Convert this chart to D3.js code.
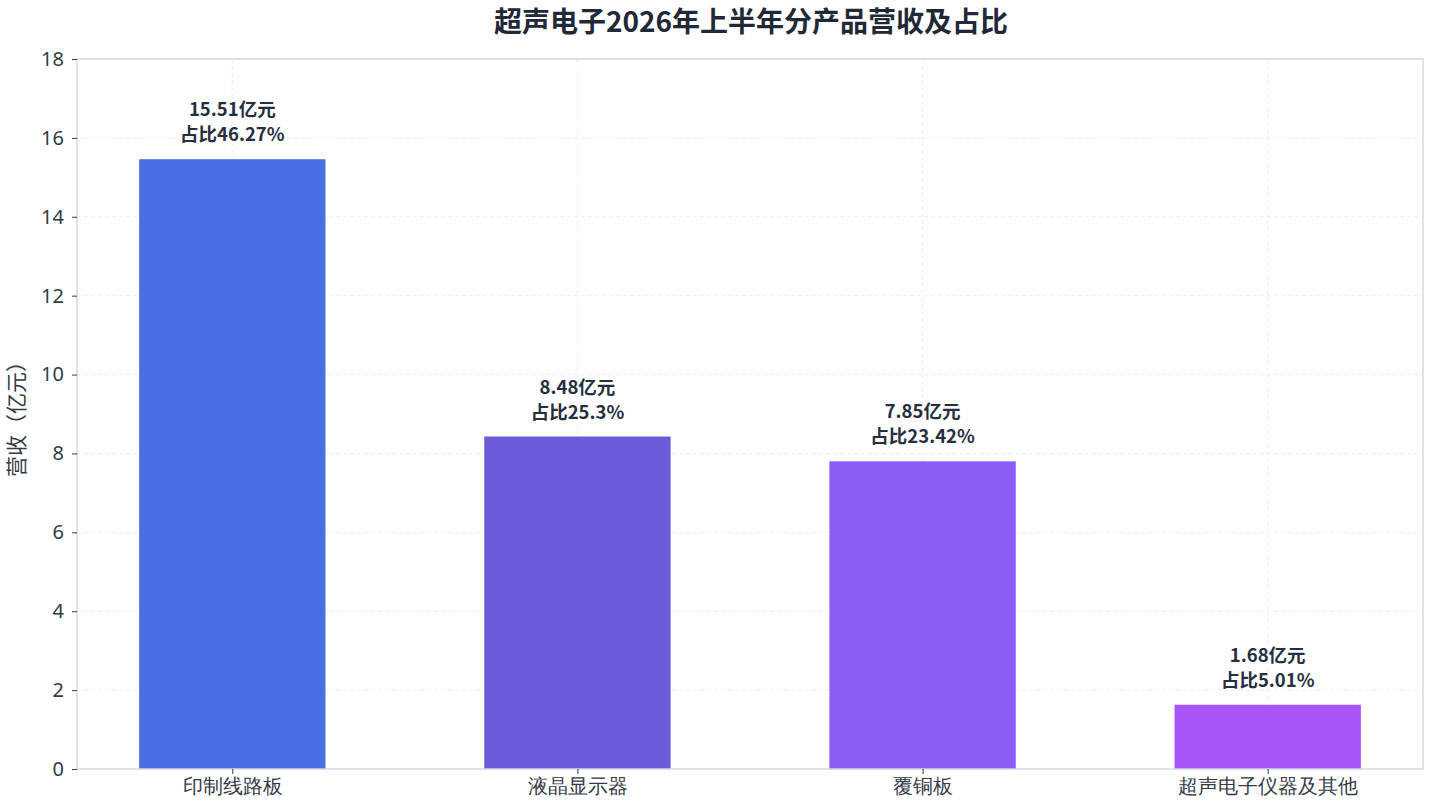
<!DOCTYPE html>
<html><head><meta charset="utf-8">
<script src="https://cdn.jsdelivr.net/npm/d3@7"></script>
<style>
html,body{margin:0;padding:0;background:#fff;}
svg{display:block;font-family:"Noto Sans CJK SC","Noto Sans",sans-serif;}
</style></head>
<body><svg id="c" width="1430" height="807"></svg>
<script>
const categories = ["印制线路板","液晶显示器","覆铜板","超声电子仪器及其他"];
const revenues = [15.51, 8.48, 7.85, 1.68];
const shares = ["46.27%","25.3%","23.42%","5.01%"];
const colors = ["#4a6fe3","#6a5bd8","#8b5cf6","#a855f7"];
const yTicks = [0,2,4,6,8,10,12,14,16,18];

const svg = d3.select("#c");
const L = 77, R = 1423, T = 59, B = 769;
const x = d3.scaleLinear().domain([-0.45, 3.45]).range([L, R]);
const y = d3.scaleLinear().domain([0, 18]).range([B, T]);
const barW = 0.54;

// grid
svg.append("g").selectAll("line").data(yTicks.slice(1,-1)).join("line")
  .attr("x1", L).attr("x2", R).attr("y1", d=>y(d)).attr("y2", d=>y(d))
  .attr("stroke", "#e6e8ec").attr("stroke-dasharray", "4,3").attr("stroke-width", 0.8);
svg.append("g").selectAll("line").data(categories).join("line")
  .attr("x1", (d,i)=>x(i)).attr("x2", (d,i)=>x(i)).attr("y1", T).attr("y2", B)
  .attr("stroke", "#e6e8ec").attr("stroke-dasharray", "4,3").attr("stroke-width", 0.8);

// bars
svg.append("g").selectAll("rect").data(revenues).join("rect")
  .attr("x", (d,i)=>x(i - barW/2)).attr("width", (d,i)=>x(barW) - x(0))
  .attr("y", d=>y(d) + 2).attr("height", d=>y(0)-y(d) - 2)
  .attr("fill", (d,i)=>colors[i]);

// frame
svg.append("rect").attr("x", L).attr("y", T).attr("width", R-L).attr("height", B-T)
  .attr("fill", "none").attr("stroke", "#d5d8de").attr("stroke-width", 1.5);

// axes
const yAxis = d3.axisLeft(y).tickValues(yTicks).tickSize(5).tickPadding(8);
const gy = svg.append("g").attr("transform", `translate(${L},0)`).call(yAxis);
gy.select(".domain").remove();
gy.selectAll("line").attr("stroke", "#333a45");
gy.selectAll("text").attr("font-size", 20).attr("fill", "#333a45").attr("font-family", '"Noto Sans","Noto Sans CJK SC",sans-serif');

const xAxis = d3.axisBottom(x).tickValues(d3.range(categories.length)).tickFormat(i=>categories[i]).tickSize(5).tickPadding(5);
const gx = svg.append("g").attr("transform", `translate(0,${B})`).call(xAxis);
gx.select(".domain").remove();
gx.selectAll("line").attr("stroke", "#333a45");
gx.selectAll("text").attr("font-size", 20).attr("fill", "#333a45");

// value labels
const lab = svg.append("g").selectAll("text").data(revenues).join("text")
  .attr("text-anchor", "middle").attr("font-weight", "bold").attr("font-size", 18.5).attr("fill", "#252f3f");
lab.append("tspan").attr("x", (d,i)=>x(i)).attr("y", d=>y(d) - 41).text(d=>d + "亿元");
lab.append("tspan").attr("x", (d,i)=>x(i)).attr("y", d=>y(d) - 16).text((d,i)=>"占比" + shares[i]);

// title
svg.append("text").attr("x", 751).attr("y", 32).attr("text-anchor", "middle")
  .attr("font-weight", "bold").attr("font-size", 28).attr("fill", "#1f2937")
  .text("超声电子2026年上半年分产品营收及占比");

// y label
svg.append("text").attr("transform", `translate(24,${(T+B)/2}) rotate(-90)`).attr("text-anchor", "middle")
  .attr("font-size", 21).attr("fill", "#333a45").text("营收（亿元）");
</script></body></html>
